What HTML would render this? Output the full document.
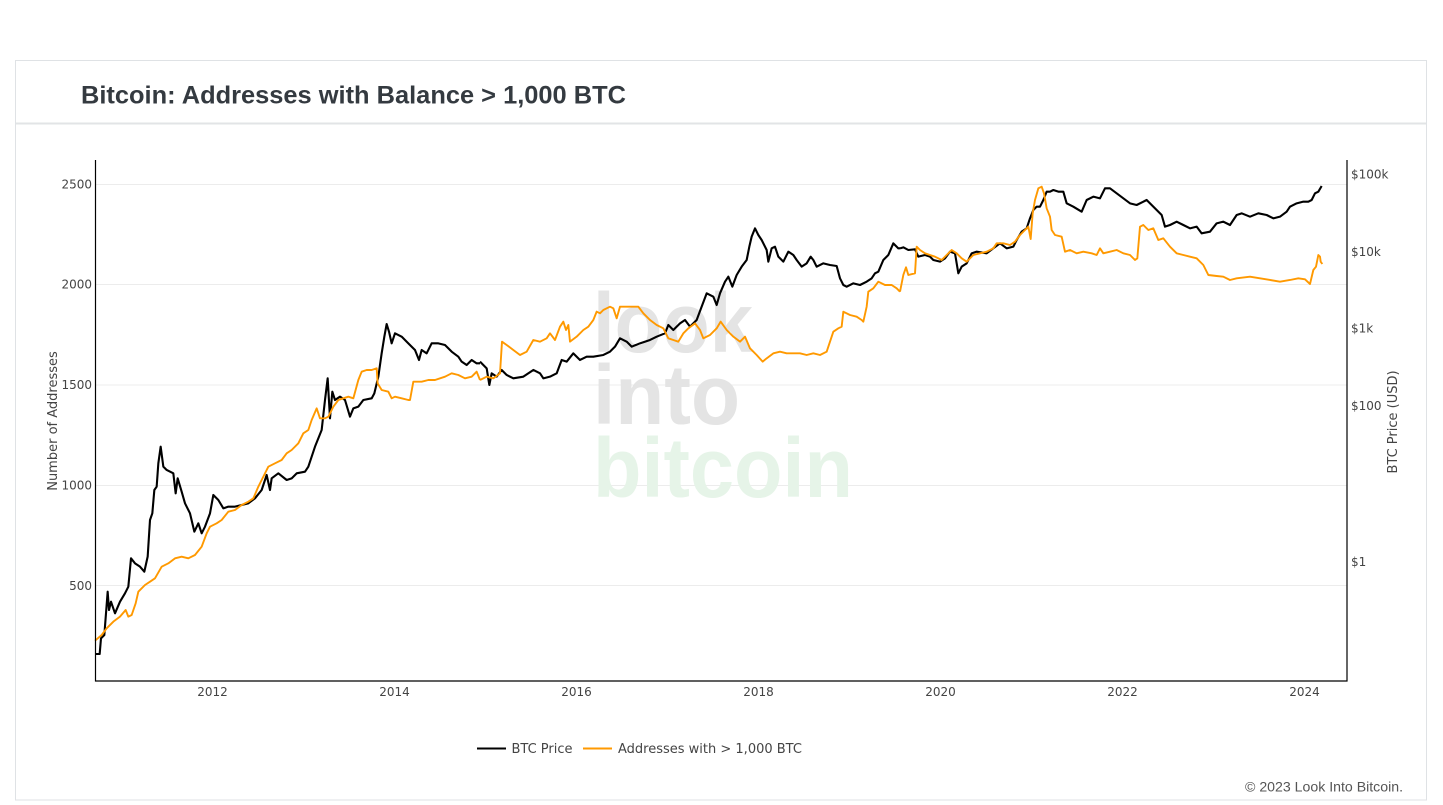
<!DOCTYPE html>
<html>
<head>
<meta charset="utf-8">
<style>
  html,body{margin:0;padding:0;background:#fff;}
  body{width:1443px;height:805px;overflow:hidden;}
  svg{display:block;}
  .tick{font-family:"DejaVu Sans","Liberation Sans",sans-serif;font-size:12px;fill:#444;}
  .lbl{font-family:"DejaVu Sans","Liberation Sans",sans-serif;font-size:13px;fill:#444;}
</style>
</head>
<body>
<svg width="1443" height="805" viewBox="0 0 1443 805" xmlns="http://www.w3.org/2000/svg">
  <!-- card -->
  <rect x="15.5" y="60.5" width="1411" height="739.5" fill="#fff" stroke="#dfe2e5" stroke-width="1"/>
  <line x1="16" y1="123.5" x2="1426" y2="123.5" stroke="#e2e4e6" stroke-width="2"/>
  <text x="81" y="103.5" font-family="Liberation Sans, sans-serif" font-weight="bold" font-size="25" fill="#343a40" textLength="545" lengthAdjust="spacingAndGlyphs">Bitcoin: Addresses with Balance &gt; 1,000 BTC</text>

  <!-- gridlines -->
  <g stroke="#ececec" stroke-width="1">
    <line x1="96" y1="184.5" x2="1347" y2="184.5"/>
    <line x1="96" y1="284.5" x2="1347" y2="284.5"/>
    <line x1="96" y1="385" x2="1347" y2="385"/>
    <line x1="96" y1="485.5" x2="1347" y2="485.5"/>
    <line x1="96" y1="585.5" x2="1347" y2="585.5"/>
  </g>

  <!-- watermark -->
  <g font-family="Liberation Sans, sans-serif" font-weight="bold" font-size="84">
    <text x="593" y="352" fill="#e4e4e4" textLength="160" lengthAdjust="spacingAndGlyphs">look</text>
    <text x="593" y="424" fill="#e4e4e4" textLength="147" lengthAdjust="spacingAndGlyphs">into</text>
    <text x="593" y="497" fill="#e6f4e8" textLength="260" lengthAdjust="spacingAndGlyphs">bitcoin</text>
  </g>

  <!-- BTC price (black) -->
  <g fill="none" stroke="#000" stroke-width="2.1" stroke-linejoin="round">
    <path vector-effect="non-scaling-stroke" transform="translate(95,300) scale(0.33333)" d="M0,1062 L14,1062 L18,1015 L28,1005 L33,940 L38,875 L42,930 L48,905 L60,940 L75,905 L90,880 L100,860 L108,775 L120,790 L135,800 L148,815 L158,770 L165,660 L172,640 L178,570 L185,560 L190,490 L197,440 L205,500 L215,510 L235,520 L242,580 L248,535 L260,575 L270,610 L285,640 L298,695 L310,670 L320,700 L330,680 L345,640 L355,585 L370,600 L385,625 L400,620 L420,620 L440,615 L460,610 L480,595 L500,570 L515,525 L525,570 L530,535 L550,520 L575,540 L590,535 L605,520 L630,515 L640,500 L660,440 L680,390 L690,300 L698,235 L705,355 L712,275 L720,300 L735,290 L750,300 L765,350 L775,325 L790,320 L805,300 L830,295 L838,280 L850,230 L860,160 L868,110 L875,72 L882,95 L890,130 L900,100 L920,110 L940,130 L960,150 L972,180 L980,150 L995,160 L1010,130 L1030,130 L1050,135 L1070,155 L1090,170 L1100,185 L1115,195 L1130,180 L1145,190 L1155,190"/>
    <path vector-effect="non-scaling-stroke" transform="translate(480,160) scale(0.33333)" d="M0,605 L20,625 L28,675 L35,640 L50,650 L65,630 L80,645 L100,655 L130,650 L160,630 L180,640 L190,655 L210,650 L230,640 L245,600 L260,605 L280,580 L300,600 L320,590 L340,590 L370,585 L390,575 L405,560 L420,535 L440,545 L455,560 L480,550 L510,540 L530,530 L555,520 L565,495 L580,510 L600,490 L615,480 L630,500 L650,480 L665,440 L680,400 L700,410 L710,435 L720,400 L735,365 L745,350 L757,380 L770,345 L785,320 L800,300 L808,260 L815,230 L825,205 L835,225 L845,240 L860,270 L865,305 L875,265 L885,260 L895,290 L910,305 L925,275 L940,285 L950,300 L965,320 L980,310 L992,290 L1000,300 L1010,320 L1030,310 L1050,315 L1070,318 L1080,355 L1090,375 L1100,380 L1120,370 L1140,375 L1160,365 L1175,355 L1185,340 L1195,335 L1210,300 L1225,285 L1240,250 L1255,265 L1260,265"/>
    <path vector-effect="non-scaling-stroke" transform="translate(900,160) scale(0.33333)" d="M0,265 L10,262 L25,270 L45,268 L55,290 L75,285 L90,290 L100,300 L120,305 L135,295 L150,275 L165,280 L175,340 L185,320 L200,310 L215,280 L230,275 L260,280 L280,265 L300,250 L320,265 L340,260 L350,240 L365,215 L380,205 L390,175 L400,150 L410,140 L420,140 L430,120 L440,95 L450,95 L460,90 L475,95 L490,95 L500,130 L520,140 L545,155 L560,120 L580,110 L600,115 L615,85 L630,85 L650,100 L670,115 L690,130 L710,135 L730,125 L740,120 L755,135 L770,150 L785,165 L795,200 L810,195 L830,185 L850,195 L870,205 L890,200 L905,220 L930,215 L950,190 L970,185 L990,195 L1010,165 L1025,160 L1050,170 L1075,160 L1100,165 L1120,175 L1140,170 L1160,155 L1170,140 L1190,130 L1210,125 L1225,125 L1235,120 L1245,100 L1255,95 L1265,78"/>
  </g>

  <!-- Addresses (orange) -->
  <g fill="none" stroke="#ff9900" stroke-width="1.9" stroke-linejoin="round">
    <path vector-effect="non-scaling-stroke" transform="translate(95,300) scale(0.33333)" d="M0,1022 L20,1005 L35,985 L55,965 L75,950 L92,930 L100,950 L110,945 L122,910 L130,875 L150,855 L165,845 L180,835 L200,800 L220,790 L240,775 L260,770 L280,775 L300,765 L320,740 L335,700 L345,680 L365,670 L380,660 L400,635 L420,630 L440,615 L460,605 L475,595 L490,560 L500,540 L520,500 L540,490 L560,480 L575,460 L590,450 L610,430 L625,400 L640,390 L650,360 L665,325 L675,355 L690,355 L700,350 L715,320 L730,300 L745,295 L760,290 L775,295 L790,240 L800,215 L815,210 L830,210 L845,205 L848,250 L860,270 L880,275 L890,295 L900,290 L920,295 L940,300 L945,300 L955,245 L980,245 L1000,240 L1020,240 L1050,230 L1070,220 L1090,225 L1110,235 L1130,230 L1145,215 L1155,240"/>
    <path vector-effect="non-scaling-stroke" transform="translate(480,160) scale(0.33333)" d="M0,660 L20,650 L40,655 L60,640 L66,545 L80,555 L100,570 L120,585 L140,575 L160,540 L180,545 L200,535 L210,520 L225,540 L240,500 L250,485 L258,510 L265,495 L270,545 L290,530 L310,510 L325,500 L340,480 L350,455 L360,460 L370,450 L380,445 L390,440 L400,445 L410,475 L420,440 L440,440 L460,440 L475,440 L490,460 L510,480 L530,495 L550,505 L565,535 L580,540 L595,545 L610,520 L625,505 L645,490 L660,510 L670,535 L690,525 L710,505 L722,485 L740,510 L760,530 L780,545 L795,530 L810,565 L830,585 L848,605 L860,595 L880,580 L900,575 L920,580 L940,580 L960,580 L980,585 L1000,580 L1020,585 L1040,575 L1050,545 L1060,515 L1075,505 L1085,500 L1090,455 L1110,465 L1130,470 L1145,480 L1150,485 L1160,440 L1165,395 L1180,385 L1195,365 L1215,375 L1235,375 L1250,385 L1260,395"/>
    <path vector-effect="non-scaling-stroke" transform="translate(900,160) scale(0.33333)" d="M0,395 L10,345 L18,322 L25,345 L45,340 L50,260 L60,270 L75,280 L90,285 L105,290 L125,300 L140,285 L155,270 L170,280 L185,295 L200,305 L220,285 L240,280 L260,275 L280,265 L290,250 L310,250 L330,255 L345,245 L360,225 L375,210 L385,200 L392,237 L398,160 L405,120 L415,85 L425,80 L432,100 L440,145 L450,170 L455,210 L465,225 L485,230 L495,275 L510,270 L530,280 L550,275 L575,280 L590,285 L600,265 L610,280 L630,275 L650,270 L670,280 L690,285 L705,300 L712,295 L720,200 L730,195 L745,210 L760,205 L775,240 L790,235 L810,260 L830,280 L850,285 L870,290 L890,295 L910,315 L925,345 L950,348 L970,350 L990,360 L1010,355 L1050,350 L1080,355 L1110,360 L1140,365 L1170,360 L1195,355 L1215,358 L1230,372 L1240,330 L1248,320 L1255,285 L1260,290 L1262,305 L1267,312"/>
  </g>

  <!-- axes -->
  <g stroke="#000" stroke-width="1.2">
    <line x1="95.5" y1="160" x2="95.5" y2="681.5"/>
    <line x1="95" y1="681" x2="1347.5" y2="681"/>
    <line x1="1347" y1="160" x2="1347" y2="681.5"/>
  </g>

  <!-- left ticks -->
  <g class="tick" text-anchor="end">
    <text x="92" y="188.5">2500</text>
    <text x="92" y="288.5">2000</text>
    <text x="92" y="389">1500</text>
    <text x="92" y="489.5">1000</text>
    <text x="92" y="590">500</text>
  </g>

  <!-- right ticks -->
  <g class="tick" text-anchor="start">
    <text x="1351" y="178.5">$100k</text>
    <text x="1351" y="256">$10k</text>
    <text x="1351" y="332.5">$1k</text>
    <text x="1351" y="410">$100</text>
    <text x="1351" y="566">$1</text>
  </g>

  <!-- x ticks -->
  <g class="tick" text-anchor="middle">
    <text x="212.5" y="696">2012</text>
    <text x="394.5" y="696">2014</text>
    <text x="576.5" y="696">2016</text>
    <text x="758.5" y="696">2018</text>
    <text x="940.5" y="696">2020</text>
    <text x="1122.5" y="696">2022</text>
    <text x="1304.5" y="696">2024</text>
  </g>

  <!-- axis titles -->
  <text class="lbl" transform="translate(57,421) rotate(-90)" text-anchor="middle">Number of Addresses</text>
  <text class="lbl" transform="translate(1397,422) rotate(-90)" text-anchor="middle">BTC Price (USD)</text>

  <!-- legend -->
  <line x1="477" y1="748.5" x2="506" y2="748.5" stroke="#000" stroke-width="2"/>
  <text class="lbl" x="511.5" y="753" fill="#444">BTC Price</text>
  <line x1="583" y1="748.5" x2="612" y2="748.5" stroke="#ff9900" stroke-width="2"/>
  <text class="lbl" x="618" y="753" fill="#444">Addresses with &gt; 1,000 BTC</text>

  <!-- footer -->
  <text x="1245" y="791.5" font-family="Liberation Sans, sans-serif" font-size="14" fill="#555" textLength="158" lengthAdjust="spacingAndGlyphs">© 2023 Look Into Bitcoin.</text>
</svg>
</body>
</html>
